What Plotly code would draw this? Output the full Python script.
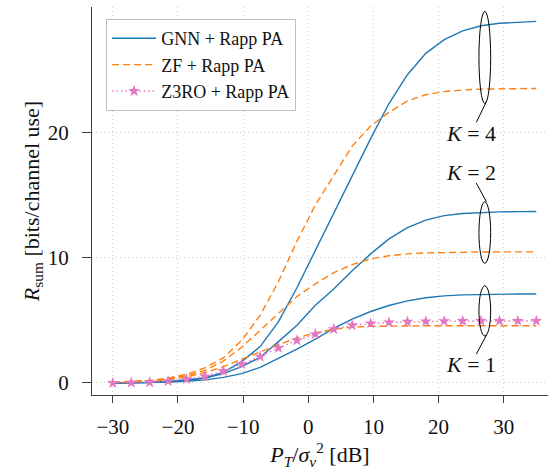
import plotly.graph_objects as go

# Transmit SNR grid [dB]
snr_db = [-30.0, -27.17, -24.35, -21.52, -18.70, -15.87, -13.04, -10.22,
          -7.39, -4.57, -1.74, 1.09, 3.91, 6.74, 9.57, 12.39,
          15.22, 18.04, 20.87, 23.70, 26.52, 29.35, 32.17, 35.0]

# Sum rate [bits/channel use] per precoder and number of users K
gnn_k1 = [0.0, 0.01, 0.03, 0.07, 0.14, 0.25, 0.45, 0.75, 1.25, 1.95, 2.7, 3.5,
          4.35, 5.1, 5.7, 6.18, 6.55, 6.8, 6.95, 7.03, 7.07, 7.09, 7.1, 7.1]
gnn_k2 = [0.0, 0.01, 0.04, 0.1, 0.2, 0.4, 0.75, 1.3, 2.05, 3.3, 4.6, 6.2,
          7.5, 8.95, 10.3, 11.5, 12.4, 13.0, 13.35, 13.52, 13.6, 13.65, 13.67, 13.68]
gnn_k4 = [0.0, 0.02, 0.05, 0.12, 0.25, 0.4, 0.85, 1.7, 2.9, 4.9, 7.6, 10.6,
          13.5, 16.6, 19.5, 22.3, 24.6, 26.3, 27.4, 28.1, 28.5, 28.7, 28.8, 28.85]

zf_k1 = [0.03, 0.07, 0.14, 0.27, 0.48, 0.82, 1.3, 1.9, 2.5, 3.05, 3.6, 4.0,
         4.28, 4.45, 4.52, 4.55, 4.56, 4.56, 4.56, 4.56, 4.56, 4.56, 4.56, 4.56]
zf_k2 = [0.05, 0.1, 0.18, 0.32, 0.58, 1.0, 1.75, 2.85, 4.2, 5.6, 6.9, 7.9,
         8.8, 9.45, 9.9, 10.15, 10.3, 10.38, 10.42, 10.44, 10.45, 10.46, 10.46, 10.46]
zf_k4 = [0.05, 0.1, 0.2, 0.38, 0.7, 1.2, 2.0, 3.4, 5.4, 8.1, 11.3, 14.2,
         16.6, 18.9, 20.5, 21.6, 22.5, 23.0, 23.25, 23.38, 23.45, 23.48, 23.5, 23.5]

z3ro_k1 = [0.0, 0.02, 0.06, 0.15, 0.3, 0.53, 0.95, 1.5, 2.1, 2.8, 3.4, 3.9,
           4.3, 4.6, 4.75, 4.83, 4.88, 4.91, 4.93, 4.94, 4.95, 4.95, 4.95, 4.95]

x_ticks = [-30, -20, -10, 0, 10, 20, 30]
y_ticks = [0, 10, 20]

# Group markers: (K label, ellipse box, leader line, label position)
groups = [
    ("4", (26.2, 28.0, 22.3, 29.65), (27.3, 22.4, 25.8, 20.8), (24.95, 19.9)),
    ("2", (26.2, 28.0, 9.55, 14.45), (27.35, 14.45, 25.8, 15.95), (25.0, 16.8)),
    ("1", (26.2, 28.0, 3.75, 7.75), (27.35, 3.82, 25.8, 2.3), (24.95, 1.5)),
]

BLUE = "#1f77b4"
ORANGE = "#ff7f0e"
PINK = "#e377c2"
SERIF = "Liberation Serif"

fig = go.Figure()

for i, y in enumerate([gnn_k1, gnn_k2, gnn_k4]):
    fig.add_trace(go.Scatter(
        x=snr_db, y=y, mode="lines", name="GNN + Rapp PA",
        line=dict(color=BLUE, width=1.4), showlegend=(i == 0)))

for i, y in enumerate([zf_k1, zf_k2, zf_k4]):
    fig.add_trace(go.Scatter(
        x=snr_db, y=y, mode="lines", name="ZF + Rapp PA",
        line=dict(color=ORANGE, width=1.4, dash="7px,4px"), showlegend=(i == 0)))

fig.add_trace(go.Scatter(
    x=snr_db, y=z3ro_k1, mode="lines+markers", name="Z3RO + Rapp PA",
    line=dict(color=PINK, width=1.4, dash="1.5px,3px"),
    marker=dict(symbol="star", size=9, color=PINK, line=dict(width=0))))

shapes = []
annotations = []
for k, (ex0, ex1, ey0, ey1), (lx0, ly0, lx1, ly1), (tx, ty) in groups:
    shapes.append(dict(type="circle", xref="x", yref="y",
                       x0=ex0, x1=ex1, y0=ey0, y1=ey1,
                       line=dict(color="black", width=1)))
    shapes.append(dict(type="line", xref="x", yref="y",
                       x0=lx0, y0=ly0, x1=lx1, y1=ly1,
                       line=dict(color="black", width=1)))
    annotations.append(dict(x=tx, y=ty, xref="x", yref="y",
                            text=f"<i>K</i> = {k}", showarrow=False,
                            font=dict(family=SERIF, size=22, color="#111")))

axis_common = dict(
    showline=True, linecolor="#404040", linewidth=1,
    ticks="outside", tickcolor="#404040", tickwidth=1,
    showgrid=True, gridcolor="#d0d0d0", gridwidth=1, griddash="1px,3px",
    zeroline=False, mirror=False,
    tickfont=dict(family=SERIF, size=21, color="#111"),
)

fig.update_layout(
    width=550, height=472,
    margin=dict(l=92, r=2, t=7, b=77),
    paper_bgcolor="white", plot_bgcolor="white",
    font=dict(family=SERIF, color="#111"),
    xaxis=dict(range=[-33.2, 36.8], tickvals=x_ticks, ticklen=7,
               ticklabelstandoff=6,
               title=dict(text="<i>P</i><sub><i>T</i></sub>/<i>σ</i><sub><i>v</i></sub><sup>2</sup> [dB]",
                          font=dict(family=SERIF, size=22), standoff=8),
               **axis_common),
    yaxis=dict(range=[-0.96, 30], tickvals=y_ticks, ticklen=9,
               ticklabelstandoff=9,
               title=dict(text="<i>R</i><sub>sum</sub> [bits/channel use]",
                          font=dict(family=SERIF, size=22), standoff=2),
               **axis_common),
    legend=dict(x=0.031, y=0.969, xanchor="left", yanchor="top",
                bgcolor="white", bordercolor="#bfbfbf", borderwidth=1,
                font=dict(family=SERIF, size=18, color="#111"),
                itemwidth=44, tracegroupgap=0),
    shapes=shapes,
    annotations=annotations,
)

fig.write_html("out.html", include_plotlyjs=True)
